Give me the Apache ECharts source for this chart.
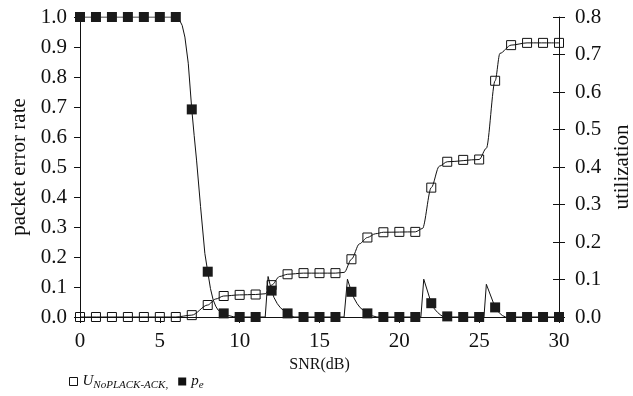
<!DOCTYPE html>
<html>
<head>
<meta charset="utf-8">
<script src="https://cdn.jsdelivr.net/npm/echarts@6/dist/echarts.min.js"></script>
<style>
  html, body { margin: 0; padding: 0; background: #fff; }
  #chart { width: 633px; height: 396px; }
</style>
</head>
<body>
<div id="chart"></div>
<script>
// SNR points where the markers sit (dB)
const snr = [0,1,2,3,4,5,6,7,8,9,10,11,12,13,14,15,16,17,18,19,20,21,22,23,24,25,26,27,28,29,30];

// Utilization at each SNR point (right axis)
const utilization = [0,0,0,0,0,0,0,0.005,0.032,0.056,0.059,0.06,0.085,0.114,0.117,0.117,0.117,0.154,0.212,0.226,0.227,0.227,0.345,0.414,0.419,0.42,0.63,0.725,0.731,0.731,0.731];

// Packet error rate at each SNR point (left axis)
const packetError = [1,1,1,1,1,1,1,0.692,0.151,0.012,0,0,0.088,0.012,0,0,0,0.084,0.012,0,0,0,0.046,0.002,0,0,0.032,0,0,0,0];

// Continuous utilization curve, [snr, value]
const utilizationCurve = [
  [0,0],[6,0],[7,0.005],[8,0.032],[8.5,0.048],[9,0.056],[10,0.059],[11,0.06],
  [11.6,0.062],[12,0.085],[12.5,0.108],[13,0.114],[14,0.117],[16,0.117],
  [16.55,0.119],[17,0.154],[17.5,0.195],[18,0.212],[18.5,0.222],[19,0.226],
  [21,0.227],[21.45,0.236],[22,0.345],[22.5,0.402],[23,0.414],[25,0.42],
  [25.45,0.45],[26,0.63],[26.3,0.703],[27,0.725],[28,0.731],[30,0.731]
];

// Continuous packet error rate curve, [snr, value]
const packetErrorCurve = [
  [0,1],[6,1],[6.2,0.993],[6.4,0.972],[6.57,0.933],[6.78,0.846],[7,0.692],[7.15,0.605],
  [7.3,0.523],[7.55,0.368],[7.82,0.212],[8,0.151],[8.17,0.095],[8.34,0.057],[8.5,0.036],
  [8.65,0.023],[9,0.012],[9.3,0.005],[9.6,0.001],[10,0],
  [11.6,0],[11.78,0.135],[12,0.088],[12.15,0.065],[12.35,0.045],[12.55,0.031],
  [12.72,0.023],[13,0.012],[13.2,0.005],[13.4,0],
  [16.54,0],[16.75,0.126],[17,0.084],[17.15,0.064],[17.35,0.045],[17.55,0.031],
  [17.73,0.023],[18,0.012],[18.3,0.004],[18.6,0],
  [21.35,0],[21.53,0.126],[22,0.046],[22.2,0.027],[22.4,0.015],[22.6,0.006],[22.8,0],
  [25.3,0],[25.45,0.109],[26,0.032],[26.15,0.02],[26.3,0.012],[26.45,0.005],[26.65,0],[30,0]
];

const xTicks = { min: 0, max: 30, interval: 5 };
const leftTicks = { min: 0, max: 1, interval: 0.1 };
const rightTicks = { min: 0, max: 0.8, interval: 0.1 };

const FONT = '"Liberation Serif", "DejaVu Serif", serif';
const INK = '#111';

const utilMarkers = snr.map((x, i) => [x, utilization[i]]);
const peMarkers = snr.map((x, i) => [x, packetError[i]]);

const chart = echarts.init(document.getElementById('chart'), null, { renderer: 'canvas' });

chart.setOption({
  animation: false,
  backgroundColor: '#fff',
  textStyle: { fontFamily: FONT, color: INK },
  grid: { left: 80, right: 74, top: 17, bottom: 79, containLabel: false, outerBoundsMode: 'none' },
  legend: {
    left: 64,
    top: 367,
    itemWidth: 8,
    itemHeight: 8,
    itemGap: 10,
    icon: 'rect',
    selectedMode: false,
    data: [
      { name: 'U', itemStyle: { color: '#fff', borderColor: INK, borderWidth: 1 } },
      { name: 'pe', itemStyle: { color: INK, borderWidth: 0 } }
    ],
    formatter: function (name) {
      return name === 'U' ? '{m|U}{s|NoPLACK-ACK,}' : '{m|p}{s|e}';
    },
    textStyle: {
      fontFamily: FONT,
      color: INK,
      rich: {
        m: { fontFamily: FONT, fontStyle: 'italic', fontSize: 15, color: INK, lineHeight: 18 },
        s: { fontFamily: FONT, fontStyle: 'italic', fontSize: 11, color: INK, lineHeight: 18, padding: [8, 0, 0, 0] }
      }
    }
  },
  xAxis: {
    type: 'value',
    min: xTicks.min, max: xTicks.max, interval: xTicks.interval,
    name: 'SNR(dB)',
    nameLocation: 'middle',
    nameGap: 37,
    nameTextStyle: { fontFamily: FONT, fontSize: 16, color: INK },
    axisLine: { show: true, onZero: false, lineStyle: { color: INK, width: 1 } },
    axisTick: { show: true, inside: false, length: 6, lineStyle: { color: INK } },
    axisLabel: { fontFamily: FONT, fontSize: 21, color: INK, margin: 14 },
    splitLine: { show: false }
  },
  yAxis: [
    {
      type: 'value',
      position: 'left',
      min: leftTicks.min, max: leftTicks.max, interval: leftTicks.interval,
      name: 'packet error rate',
      nameLocation: 'middle',
      nameRotate: 90,
      nameGap: 49,
      nameTextStyle: { fontFamily: FONT, fontSize: 21, color: INK },
      axisLine: { show: true, lineStyle: { color: INK, width: 1 } },
      axisTick: { show: true, inside: false, length: 6, lineStyle: { color: INK } },
      axisLabel: { fontFamily: FONT, fontSize: 21, color: INK, margin: 13,
        formatter: v => v.toFixed(1) },
      splitLine: { show: false }
    },
    {
      type: 'value',
      position: 'right',
      min: rightTicks.min, max: rightTicks.max, interval: rightTicks.interval,
      name: 'utilization',
      nameLocation: 'middle',
      nameRotate: 90,
      nameGap: 52,
      nameTextStyle: { fontFamily: FONT, fontSize: 21, color: INK },
      axisLine: { show: true, lineStyle: { color: INK, width: 1 } },
      axisTick: { show: true, inside: false, length: 6, lineStyle: { color: INK } },
      axisLabel: { fontFamily: FONT, fontSize: 21, color: INK, margin: 16,
        formatter: v => v.toFixed(1) },
      splitLine: { show: false }
    },
    {
      // inner half of the right-hand ticks
      type: 'value',
      position: 'right',
      min: rightTicks.min, max: rightTicks.max, interval: rightTicks.interval,
      axisLine: { show: false },
      axisTick: { show: true, inside: true, length: 6, lineStyle: { color: INK } },
      axisLabel: { show: false },
      splitLine: { show: false }
    }
  ],
  series: [
    {
      name: 'U-curve',
      type: 'line',
      yAxisIndex: 1,
      data: utilizationCurve,
      smooth: 0.3,
      smoothMonotone: 'x',
      showSymbol: false,
      symbol: 'none',
      lineStyle: { color: INK, width: 1 },
      z: 2
    },
    {
      name: 'U',
      type: 'scatter',
      yAxisIndex: 1,
      data: utilMarkers,
      symbol: 'rect',
      symbolSize: 9,
      clip: false,
      itemStyle: { color: 'rgba(255,255,255,0)', borderColor: INK, borderWidth: 1, opacity: 1 },
      z: 3
    },
    {
      name: 'pe-curve',
      type: 'line',
      yAxisIndex: 0,
      data: packetErrorCurve,
      smooth: false,
      showSymbol: false,
      symbol: 'none',
      lineStyle: { color: INK, width: 1 },
      z: 4
    },
    {
      name: 'pe',
      type: 'scatter',
      yAxisIndex: 0,
      data: peMarkers,
      symbol: 'rect',
      symbolSize: 10,
      clip: false,
      itemStyle: { color: '#1a1a1a', opacity: 1 },
      z: 5
    }
  ]
});
</script>
</body>
</html>
